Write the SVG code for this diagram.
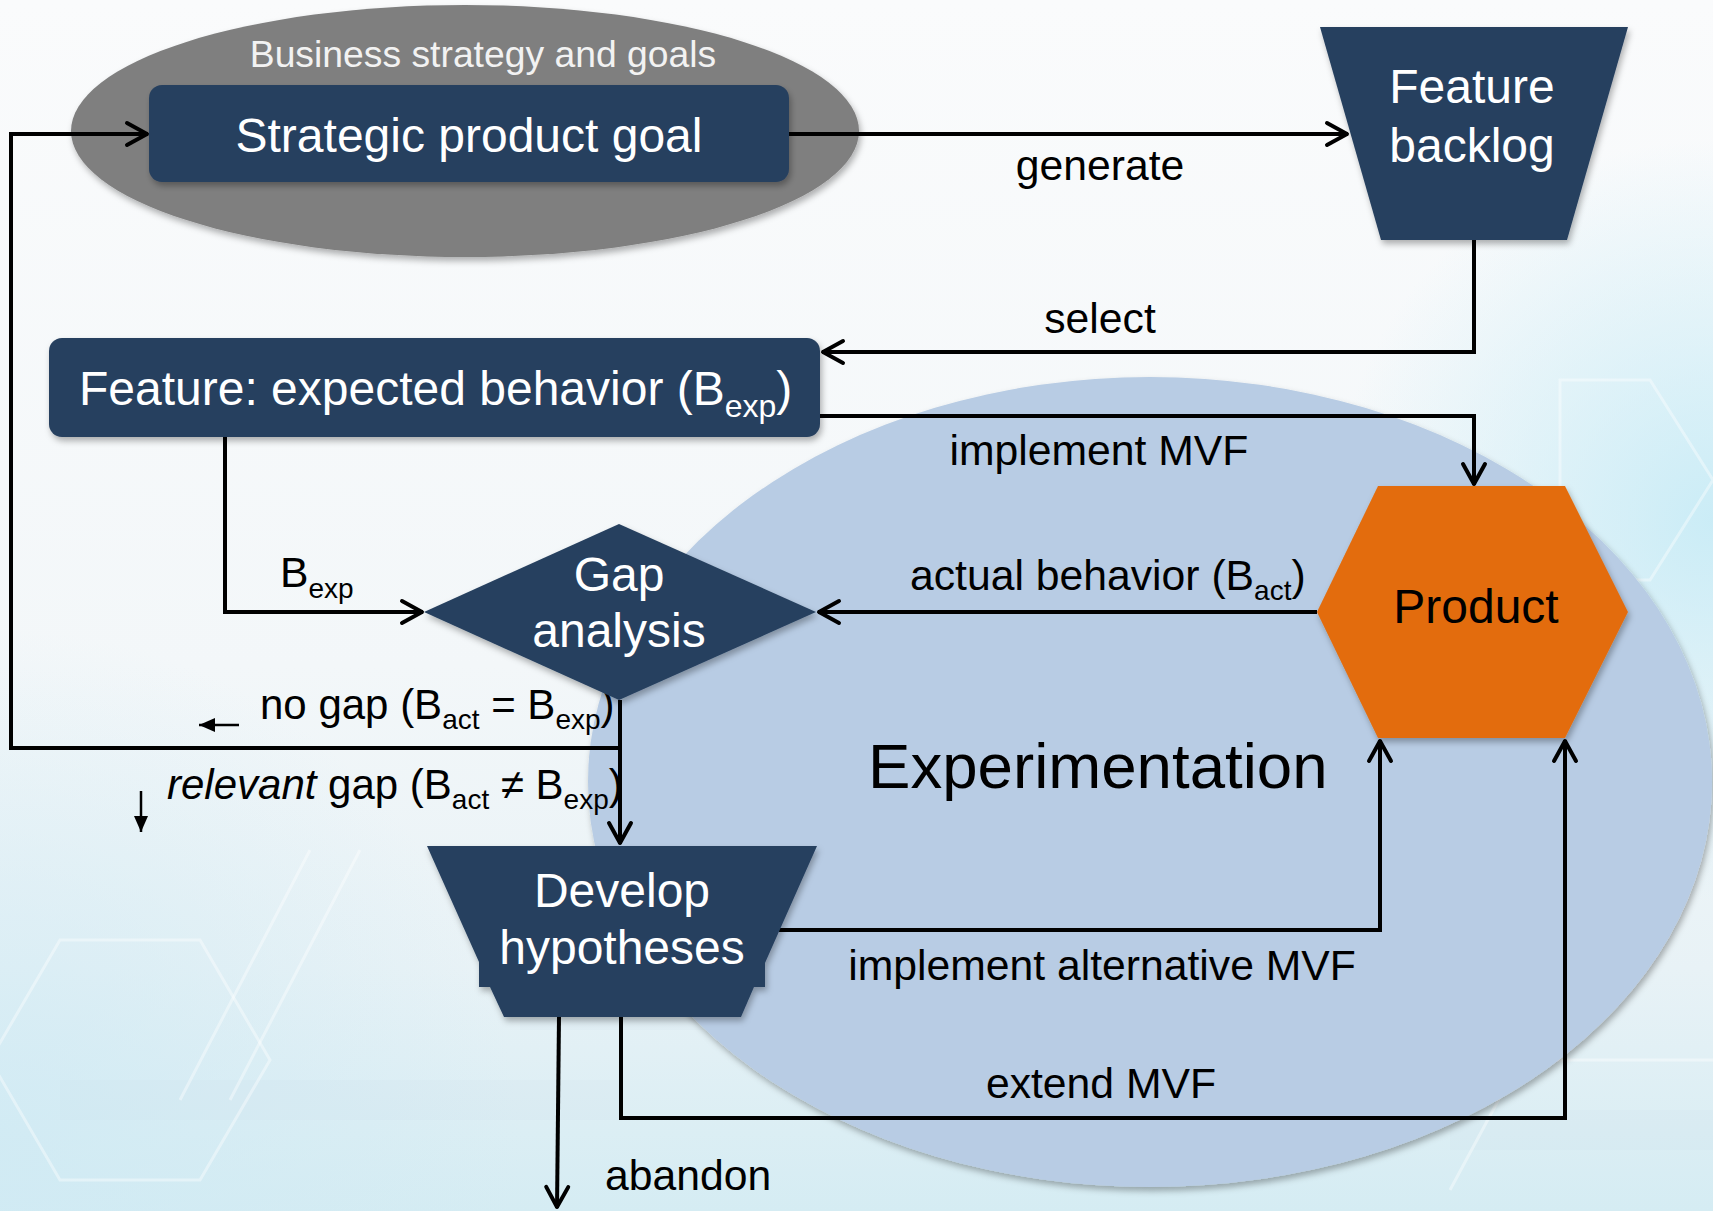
<svg xmlns="http://www.w3.org/2000/svg" width="1713" height="1211" viewBox="0 0 1713 1211">
  <defs>
    <linearGradient id="bgGrad" x1="0" y1="0" x2="0" y2="1">
      <stop offset="0" stop-color="#fafbfc"/>
      <stop offset="0.55" stop-color="#f3f7f9"/>
      <stop offset="0.8" stop-color="#e8f2f6"/>
      <stop offset="1" stop-color="#d5ecf3"/>
    </linearGradient>
    <radialGradient id="glowRight" cx="1713" cy="520" r="380" gradientUnits="userSpaceOnUse">
      <stop offset="0" stop-color="#c6ebf6" stop-opacity="0.9"/>
      <stop offset="1" stop-color="#c6ebf6" stop-opacity="0"/>
    </radialGradient>
    <radialGradient id="glowLeft" cx="0" cy="1150" r="520" gradientUnits="userSpaceOnUse">
      <stop offset="0" stop-color="#cfeaf4" stop-opacity="0.8"/>
      <stop offset="1" stop-color="#cfeaf4" stop-opacity="0"/>
    </radialGradient>
    <filter id="shadow" x="-10%" y="-10%" width="125%" height="130%">
      <feDropShadow dx="2" dy="4" stdDeviation="3" flood-color="#000" flood-opacity="0.3"/>
    </filter>
    <marker id="arrow" markerUnits="userSpaceOnUse" markerWidth="32" markerHeight="32" viewBox="-28 -16 32 32" refX="0" refY="0" orient="auto">
      <path d="M-21,-11 L-1,0 L-21,11" fill="none" stroke="#000" stroke-width="4" stroke-linejoin="round" stroke-linecap="round"/>
    </marker>
    <marker id="smallHead" markerUnits="userSpaceOnUse" markerWidth="20" markerHeight="20" viewBox="-17 -8 20 16" refX="0" refY="0" orient="auto">
      <path d="M-16,-7 L0,0 L-16,7 Z" fill="#000"/>
    </marker>
    <style>
      .node { fill: #27405f; filter: url(#shadow); }
      .nodeText { font-family: "Liberation Sans", Arial, sans-serif; font-size: 48px; fill: #ffffff; text-anchor: middle; }
      .label { font-family: "Liberation Sans", Arial, sans-serif; font-size: 42.7px; fill: #000000; }
      .branch { font-size: 42px; }
      .mid { text-anchor: middle; }
      .conn { fill: none; stroke: #000000; stroke-width: 4; stroke-linejoin: miter; }
      .glyphArrow { fill: none; stroke: #000000; stroke-width: 2.5; }
      .hex { fill: none; stroke: #ffffff; stroke-width: 3; opacity: 0.4; }
      .band { fill: #c9d6e0; opacity: 0.1; }
    </style>
  </defs>

  <!-- backdrop -->
  <rect x="0" y="0" width="1713" height="1211" fill="url(#bgGrad)"/>
  <rect x="0" y="0" width="1713" height="1211" fill="url(#glowRight)"/>
  <rect x="0" y="0" width="1713" height="1211" fill="url(#glowLeft)"/>
  <g id="backdrop-pattern">
    <rect class="band" x="60" y="1080" width="560" height="40"/>
    <rect class="band" x="520" y="1000" width="380" height="30"/>
    <rect class="band" x="1450" y="1110" width="263" height="40"/>
    <polygon class="hex" points="60,940 200,940 270,1060 200,1180 60,1180 -10,1060"/>
    <path class="hex" d="M310,850 L180,1100 M360,850 L230,1100 M1450,1190 L1520,1060 L1713,1060"/>
    <polygon class="hex" points="1560,380 1650,380 1713,480 1650,580 1560,580"/>
  </g>

  <!-- large background regions -->
  <g id="strategy-area">
    <ellipse cx="465" cy="131" rx="394" ry="126" fill="#7f7f7f" filter="url(#shadow)"/>
    <text x="483" y="67" font-family="Liberation Sans, Arial, sans-serif" font-size="37.3" fill="#f2f2f2" text-anchor="middle">Business strategy and goals</text>
  </g>
  <g id="experimentation-area">
    <ellipse cx="1150" cy="782" rx="562" ry="405" fill="#b8cce4" filter="url(#shadow)"/>
    <text x="868" y="788" font-family="Liberation Sans, Arial, sans-serif" font-size="63.6" fill="#000">Experimentation</text>
  </g>

  <!-- connectors -->
  <g id="connectors">
    <path class="conn" d="M789,134 H1348" marker-end="url(#arrow)"/>
    <path class="conn" d="M1474,240 V352 H822" marker-end="url(#arrow)"/>
    <path class="conn" d="M820,416 H1474 V485" marker-end="url(#arrow)"/>
    <path class="conn" d="M225,437 V612 H423" marker-end="url(#arrow)"/>
    <path class="conn" d="M1317,612 H818" marker-end="url(#arrow)"/>
    <path class="conn" d="M620,748 H11 V134 H148" marker-end="url(#arrow)"/>
    <path class="conn" d="M620,700 V844" marker-end="url(#arrow)"/>
    <path class="conn" d="M779,930 H1380 V740" marker-end="url(#arrow)"/>
    <path class="conn" d="M621,1017 V1118 H1565 V740" marker-end="url(#arrow)"/>
    <path class="conn" d="M559,1017 L557,1208" marker-end="url(#arrow)"/>

    <text class="label mid" x="1100" y="180">generate</text>
    <text class="label mid" x="1100" y="333">select</text>
    <text class="label mid" x="1099" y="465">implement MVF</text>
    <text class="label" x="280" y="587">B<tspan font-size="28" dy="11">exp</tspan></text>
    <text class="label" x="910" y="590">actual behavior (B<tspan font-size="28" dy="10">act</tspan><tspan dy="-10">)</tspan></text>
    <text class="label branch" x="260" y="719">no gap (B<tspan font-size="28" dy="10">act</tspan><tspan dy="-10"> = B</tspan><tspan font-size="28" dy="10">exp</tspan><tspan dy="-10">)</tspan></text>
    <text class="label branch" x="167" y="799"><tspan font-style="italic">relevant</tspan> gap (B<tspan font-size="28" dy="10">act</tspan><tspan dy="-10"> ≠ B</tspan><tspan font-size="28" dy="10">exp</tspan><tspan dy="-10">)</tspan></text>
    <text class="label mid" x="1102" y="980">implement alternative MVF</text>
    <text class="label mid" x="1101" y="1098">extend MVF</text>
    <text class="label" x="605" y="1190">abandon</text>
  </g>

  <!-- small direction arrows beside the branch labels -->
  <g id="branch-arrows">
    <path class="glyphArrow" d="M239,725 H199" marker-end="url(#smallHead)"/>
    <path class="glyphArrow" d="M141,791 V832" marker-end="url(#smallHead)"/>
  </g>

  <!-- nodes -->
  <g id="strategic-product-goal">
    <rect class="node" x="149" y="85" width="640" height="97" rx="13"/>
    <text class="nodeText" x="469" y="152">Strategic product goal</text>
  </g>

  <g id="feature-backlog">
    <polygon class="node" points="1320,27 1628,27 1567,240 1381,240"/>
    <text class="nodeText" x="1472" y="103">Feature</text>
    <text class="nodeText" x="1472" y="162">backlog</text>
  </g>

  <g id="feature-expected-behavior">
    <rect class="node" x="49" y="338" width="771" height="99" rx="13"/>
    <text x="79" y="405" font-family="Liberation Sans, Arial, sans-serif" font-size="48" fill="#fff">Feature: expected behavior (B<tspan font-size="32" dy="12">exp</tspan><tspan dy="-12">)</tspan></text>
  </g>

  <g id="gap-analysis">
    <polygon class="node" points="424,612 619,524 816,612 619,700"/>
    <text class="nodeText" x="619" y="591">Gap</text>
    <text class="nodeText" x="619" y="647">analysis</text>
  </g>

  <g id="product">
    <polygon points="1378,486 1565,486 1628,612 1565,738 1378,738 1317,612" fill="#e36c0a" filter="url(#shadow)"/>
    <text x="1476" y="623" font-family="Liberation Sans, Arial, sans-serif" font-size="48" fill="#000" text-anchor="middle">Product</text>
  </g>

  <g id="develop-hypotheses">
    <path class="node" d="M427,846 H817 L765,963 V987 H754 L741,1017 H504 L490,987 H479 V962 Z"/>
    <text class="nodeText" x="622" y="907">Develop</text>
    <text class="nodeText" x="622" y="964">hypotheses</text>
  </g>
</svg>
